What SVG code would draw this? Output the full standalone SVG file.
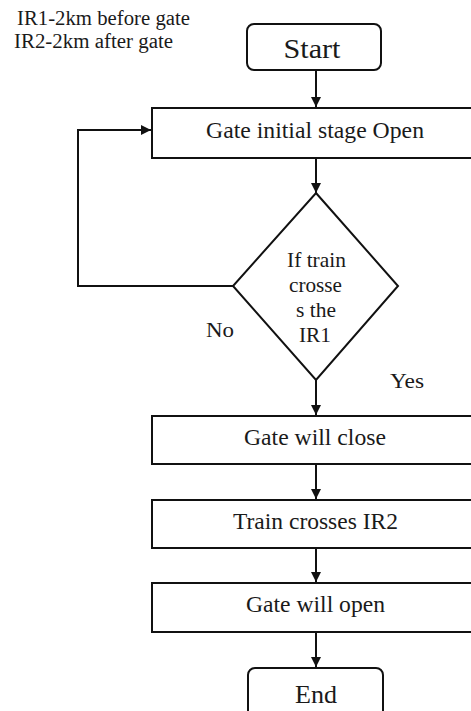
<svg xmlns="http://www.w3.org/2000/svg" width="471" height="711" viewBox="0 0 471 711">
<style>
.box{fill:#fff;stroke:#111;stroke-width:2}
.t{font-family:"Liberation Serif","Times New Roman","DejaVu Serif",serif;fill:#1a1a1a;text-anchor:middle}
.l{text-anchor:start}
.c{fill:none;stroke:#111;stroke-width:2}
</style>
<defs>
<marker id="ah" viewBox="0 0 10 10" refX="10" refY="5" markerWidth="5" markerHeight="5" orient="auto" markerUnits="strokeWidth">
<path d="M0,0 L10,5 L0,10 z" fill="#111"/>
</marker>
</defs>
<rect width="471" height="711" fill="#fff"/>
<g id="legend">
<text class="t l" x="17" y="25" font-size="20" textLength="173" lengthAdjust="spacingAndGlyphs">IR1-2km before gate</text>
<text class="t l" x="14" y="48" font-size="20" textLength="159" lengthAdjust="spacingAndGlyphs">IR2-2km after gate</text>
</g>
<g id="connectors">
<line class="c" x1="316" y1="70" x2="316" y2="107" marker-end="url(#ah)"/>
<line class="c" x1="316" y1="158" x2="316" y2="193" marker-end="url(#ah)"/>
<polyline class="c" points="233,286 78,286 78,130 151,130" marker-end="url(#ah)"/>
<line class="c" x1="316" y1="380" x2="316" y2="415" marker-end="url(#ah)"/>
<line class="c" x1="316" y1="464" x2="316" y2="499" marker-end="url(#ah)"/>
<line class="c" x1="316" y1="548" x2="316" y2="582" marker-end="url(#ah)"/>
<line class="c" x1="316" y1="632" x2="316" y2="667" marker-end="url(#ah)"/>
</g>
<g id="start">
<rect class="box" x="247" y="24" width="134" height="46" rx="7"/>
<text class="t" x="312" y="58" font-size="27" textLength="57" lengthAdjust="spacingAndGlyphs">Start</text>
</g>
<g id="gate-initial">
<rect class="box" x="152" y="108" width="330" height="50"/>
<text class="t" x="315" y="138" font-size="23" textLength="218" lengthAdjust="spacingAndGlyphs">Gate initial stage Open</text>
</g>
<g id="decision">
<polygon class="box" points="316,193 398,286 316,380 233,286"/>
<text class="t" x="316.5" y="267" font-size="21" textLength="59" lengthAdjust="spacingAndGlyphs">If train</text>
<text class="t" x="315.5" y="292" font-size="21" textLength="53" lengthAdjust="spacingAndGlyphs">crosse</text>
<text class="t" x="316" y="317" font-size="21" textLength="40" lengthAdjust="spacingAndGlyphs">s the</text>
<text class="t" x="315" y="342" font-size="21" textLength="32" lengthAdjust="spacingAndGlyphs">IR1</text>
</g>
<g id="label-no">
<text class="t" x="220" y="337" font-size="21" textLength="28" lengthAdjust="spacingAndGlyphs">No</text>
</g>
<g id="label-yes">
<text class="t" x="407" y="388" font-size="22" textLength="34" lengthAdjust="spacingAndGlyphs">Yes</text>
</g>
<g id="gate-close">
<rect class="box" x="152" y="416" width="330" height="48"/>
<text class="t" x="315" y="445" font-size="23" textLength="142" lengthAdjust="spacingAndGlyphs">Gate will close</text>
</g>
<g id="train-crosses">
<rect class="box" x="152" y="500" width="330" height="48"/>
<text class="t" x="315.5" y="529" font-size="23" textLength="165" lengthAdjust="spacingAndGlyphs">Train crosses IR2</text>
</g>
<g id="gate-open">
<rect class="box" x="152" y="583" width="330" height="49"/>
<text class="t" x="315.5" y="612" font-size="23" textLength="139" lengthAdjust="spacingAndGlyphs">Gate will open</text>
</g>
<g id="end">
<rect class="box" x="248" y="668" width="135" height="55" rx="7"/>
<text class="t" x="316" y="703" font-size="26" textLength="42" lengthAdjust="spacingAndGlyphs">End</text>
</g>
</svg>
